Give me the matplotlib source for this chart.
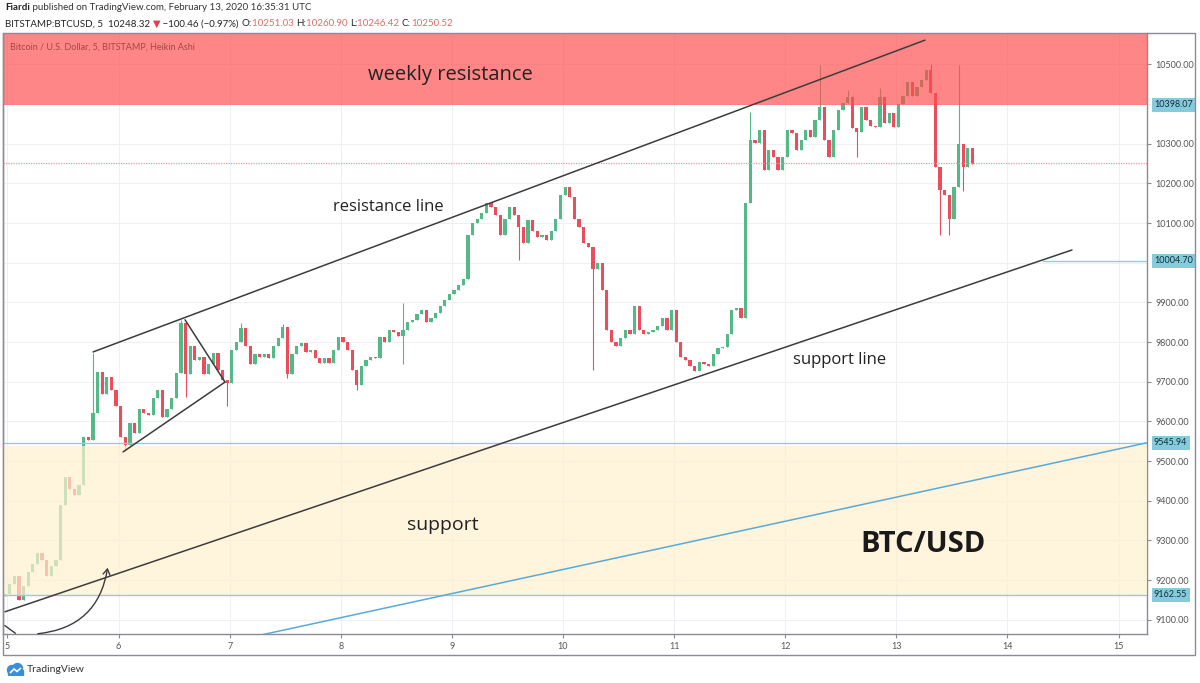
import matplotlib
matplotlib.use("Agg")
import matplotlib.pyplot as plt
import numpy as np
from matplotlib.patches import Rectangle, FancyArrowPatch, Circle, Polygon

# hourly Heikin Ashi closes (BTC/USD, Feb 5 - Feb 13)
closes = [9165, 9190, 9210, 9150, 9185, 9220, 9240, 9268, 9250, 9210,
          9235, 9250, 9390, 9460, 9430, 9415, 9440, 9560, 9553, 9621,
          9725, 9670, 9712, 9680, 9640, 9560, 9540, 9596, 9570, 9630,
          9620, 9615, 9660, 9679, 9610, 9630, 9660, 9722, 9848, 9720,
          9790, 9755, 9762, 9720, 9745, 9772, 9730, 9705, 9697, 9780,
          9800, 9835, 9790, 9745, 9770, 9762, 9770, 9760, 9790, 9810,
          9838, 9720, 9770, 9790, 9798, 9775, 9780, 9760, 9747, 9760,
          9747, 9780, 9813, 9800, 9780, 9730, 9692, 9740, 9755, 9762,
          9760, 9813, 9800, 9830, 9825, 9815, 9830, 9850, 9856, 9870,
          9881, 9850, 9860, 9873, 9890, 9905, 9920, 9931, 9945, 9960,
          10070, 10100, 10110, 10125, 10150, 10140, 10120, 10070, 10110, 10140,
          10120, 10090, 10050, 10108, 10080, 10065, 10070, 10057, 10080, 10110,
          10170, 10191, 10166, 10110, 10090, 10050, 10040, 9985, 10000, 9930,
          9830, 9800, 9790, 9810, 9830, 9820, 9890, 9830, 9820, 9825,
          9830, 9840, 9860, 9830, 9880, 9800, 9762, 9755, 9740, 9728,
          9750, 9745, 9740, 9770, 9785, 9788, 9820, 9880, 9885, 9860,
          10150, 10310, 10302, 10334, 10234, 10284, 10266, 10234, 10266, 10334,
          10327, 10284, 10310, 10334, 10317, 10360, 10392, 10309, 10266, 10334,
          10385, 10402, 10418, 10340, 10330, 10392, 10360, 10345, 10342, 10418,
          10352, 10377, 10342, 10400, 10420, 10455, 10420, 10443, 10460, 10485,
          10428, 10240, 10183, 10170, 10110, 10190, 10300, 10240, 10290, 10250]
first_open = 9160
start_day = 4.9775
step_day = 1 / 24

# notable wicks: candle index -> price
wick_high = {19: 9772, 38: 9855, 51: 9848, 60: 9845, 86: 9898, 161: 10380,
             176: 10498, 182: 10435, 189: 10440, 200: 10500, 206: 10498}
wick_low = {26: 9525, 39: 9662, 48: 9640, 61: 9710, 76: 9680, 86: 9745,
            111: 10007, 127: 9730, 184: 10266, 202: 10070, 204: 10070, 207: 10180}

# drawn levels / zones
weekly_res = 10398.07
level_mid = 10004.70
level_sup_top = 9545.94
level_sup_bot = 9162.55
last_price = 10250.52

# trend lines (day, price)
res_line = [(5.770, 9775), (13.258, 10561)]
sup_line = [(4.977, 9120), (14.581, 10032)]
tri_down = [(6.598, 9856), (6.958, 9699)]
tri_up = [(6.040, 9523), (6.958, 9699)]
blue_line = [(6.5, 9014), (15.256, 9546)]

price_ticks = [9100, 9200, 9300, 9400, 9500, 9600, 9700, 9800, 9900,
               10100, 10200, 10300, 10500]
day_ticks = [5, 6, 7, 8, 9, 10, 11, 12, 13, 14, 15]

UP = '#53b987'
DOWN = '#eb4d5c'
W, H = 1200, 683

fig = plt.figure(figsize=(12, 6.83), dpi=100)
fig.patch.set_facecolor('white')
ax = fig.add_axes([3 / W, 1 - 634 / H, 1144 / W, 601 / H])
ax.set_xlim(4.9595, 15.2565)
ax.set_ylim(9064, 10579)


def px_day(x):
    # screen pixel column -> day value on the time axis
    return 5 + (x - 7.5) / 111.1


# grid
for d in day_ticks:
    ax.axvline(d, color='#eef0f4', lw=0.8, zorder=0)
for p in range(9100, 10600, 100):
    ax.axhline(p, color='#eef0f4', lw=0.8, zorder=0)

# candles
n = len(closes)
times = start_day + step_day * np.arange(n)
opens = [first_open] + closes[:-1]
for i in range(n):
    o, c = opens[i], closes[i]
    col = UP if c >= o else DOWN
    hi = wick_high.get(i, max(o, c))
    lo = wick_low.get(i, min(o, c))
    ax.vlines(times[i], lo, hi, color=col, lw=0.8, zorder=2)
    h = c - o
    if abs(h) < 3:
        h = 3 if h >= 0 else -3
    ax.bar(times[i], h, bottom=o, width=step_day * 0.7, color=col,
           edgecolor=col, lw=0, zorder=2)

# zones over the candles
ax.axhspan(weekly_res, 10700, color='#ff4d4d', alpha=0.68, lw=0, zorder=3)
ax.axhspan(level_sup_bot, 9538, color='#fff0cf', alpha=0.72, lw=0, zorder=3)

# horizontal levels
ax.axhline(level_sup_top, color='#8fd0d2', lw=1.0, zorder=4)
ax.axhline(level_sup_bot, color='#8fd0d2', lw=1.0, zorder=4)
ax.plot([14.32, 15.3], [level_mid, level_mid], color='#8fd0d2', lw=1.0, zorder=4)
ax.axhline(last_price, color='#e89a9a', lw=0.9, ls=(0, (1, 1)), zorder=4)

# trend lines
for seg in (res_line, sup_line, tri_down, tri_up):
    ax.plot([seg[0][0], seg[1][0]], [seg[0][1], seg[1][1]], color='#3c3c3c',
            lw=1.1, zorder=5, solid_capstyle='round')
ax.plot([blue_line[0][0], blue_line[1][0]], [blue_line[0][1], blue_line[1][1]],
        color='#5aaad8', lw=1.1, zorder=5)

# curved arrow
arr = FancyArrowPatch((5.248, 9064), (5.905, 9238), connectionstyle='arc3,rad=0.4',
                      arrowstyle='->,head_length=4,head_width=2.5', color='#3c3c3c',
                      lw=1.0, zorder=6, clip_on=False)
ax.add_patch(arr)
ax.plot([4.977, 5.07], [9085, 9066], color='#3c3c3c', lw=1.0, zorder=6)

# annotations
tf = 'Open Sans'
ax.text(px_day(450), 10472, 'weekly resistance', fontsize=14.5, family=tf,
        color='#222', ha='center', va='center', zorder=7)
ax.text(px_day(388), 10140, 'resistance line', fontsize=12, family=tf,
        color='#222', ha='center', va='center', zorder=7)
ax.text(px_day(840), 9755, 'support line', fontsize=12, family=tf,
        color='#222', ha='center', va='center', zorder=7)
ax.text(px_day(443), 9338, 'support', fontsize=14, family=tf,
        color='#222', ha='center', va='center', zorder=7)
ax.text(px_day(923), 9290, 'BTC/USD', fontsize=21, family=tf,
        weight='bold', color='#1a1a1a', ha='center', va='center', zorder=7)
ax.text(0.006, 0.976, 'Bitcoin / U.S. Dollar, 5, BITSTAMP, Heikin Ashi',
        transform=ax.transAxes, fontsize=6.5, family='Lato', color='#a04848',
        ha='left', va='center', zorder=7)

# axes styling
ax.spines['top'].set_visible(False)
for s in ('left', 'right', 'bottom'):
    ax.spines[s].set_color('#8a8d96')
    ax.spines[s].set_linewidth(1.0)
ax.yaxis.tick_right()
ax.set_yticks(price_ticks)
ax.set_yticklabels([f'{p:.2f}' for p in price_ticks])
ax.set_xticks(day_ticks)
ax.set_xticklabels([str(d) for d in day_ticks])
ax.tick_params(axis='both', direction='out', length=3, width=0.8, color='#8a8d96',
               labelsize=6.5, labelcolor='#555', pad=3)
for lab in ax.get_yticklabels() + ax.get_xticklabels():
    lab.set_family('Lato')

# highlighted price labels
for val in (weekly_res, level_mid, level_sup_top, level_sup_bot):
    ax.annotate(f'{val:.2f}', xy=(1.0, val), xycoords=('axes fraction', 'data'),
                xytext=(5, 0), textcoords='offset points', fontsize=6.5,
                family='Lato', color='#10303a', va='center', ha='left',
                bbox=dict(boxstyle='square,pad=0.25', fc='#86cbdc', ec='none'),
                annotation_clip=False, zorder=8)

# outer frame
fig.add_artist(Rectangle((3 / W, 1 - 655 / H), 1192 / W, 622 / H,
                         transform=fig.transFigure, fill=False, ec='#8a8d96', lw=1.0))


# header lines with coloured pieces
def chain(pieces, x_px, y_px, size):
    r = fig.canvas.get_renderer()
    x = x_px
    for txt, col, wt in pieces:
        t = fig.text(x / W, 1 - y_px / H, txt, fontsize=size,
                     family=['Lato', 'DejaVu Sans'],
                     color=col, weight=wt, va='center', ha='left')
        bb = t.get_window_extent(renderer=r)
        x += bb.width


chain([('Fiardi', '#222', 'bold'),
       (' published on TradingView.com, February 13, 2020 16:35:31 UTC', '#333', 'normal')],
      5, 8, 7)
red = '#e06a6a'
chain([('BITSTAMP:BTCUSD, 5  10248.32 ', '#222', 'normal'),
       ('\u25bc', '#e0404a', 'normal'),
       (' \u2212100.46 (\u22120.97%) ', '#222', 'normal'),
       ('O:', '#222', 'normal'), ('10251.03 ', red, 'normal'),
       ('H:', '#222', 'normal'), ('10260.90 ', red, 'normal'),
       ('L:', '#222', 'normal'), ('10246.42 ', red, 'normal'),
       ('C:', '#222', 'normal'), ('10250.52', red, 'normal')],
      5, 24, 7)

# TradingView logo
lax = fig.add_axes([5 / W, 1 - 676 / H, 20 / W, 14 / H])
lax.set_xlim(0, 20)
lax.set_ylim(0, 14)
lax.set_aspect('equal')
lax.axis('off')
lax.add_patch(Circle((7, 6), 4.5, color='#3a8fd9'))
lax.add_patch(Circle((12.5, 7.5), 5, color='#3a8fd9'))
lax.add_patch(Rectangle((3, 1.5), 15, 5, color='#3a8fd9'))
lax.add_patch(Polygon([(5, 3), (9, 7), (12, 4.5), (16, 8)], closed=False,
                      fill=False, ec='white', lw=1.2))
fig.text(27 / W, 1 - 669 / H, 'TradingView', fontsize=7.5, family='Lato',
         color='#333', va='center', ha='left')

fig.savefig('out.png', dpi=100, facecolor='white')
